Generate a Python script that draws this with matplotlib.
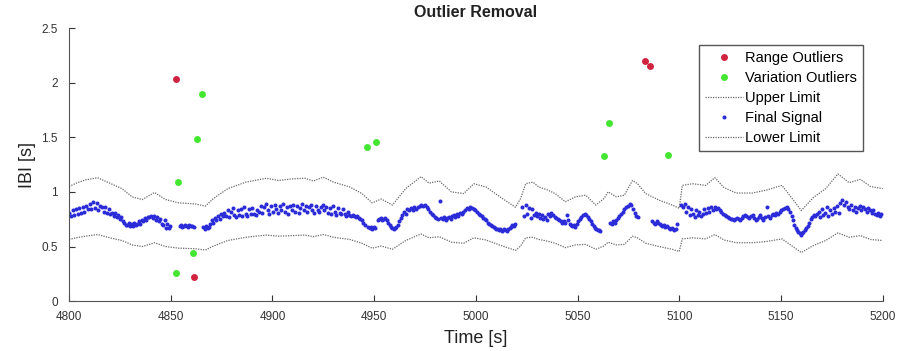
import numpy as np
import matplotlib
matplotlib.use('Agg')
import matplotlib.pyplot as plt
from matplotlib.ticker import FormatStrFormatter

plt.rcParams['font.family'] = ['Liberation Sans', 'DejaVu Sans']

# --- outliers (time [s], IBI [s]) ---
range_t = [4852.6, 4861.4, 5083.2, 5085.7]
range_v = [2.03, 0.22, 2.20, 2.15]

var_t = [4852.6, 4853.6, 4861.0, 4863.0, 4865.4, 4946.4, 4950.9, 5063.0, 5065.4, 5094.3]
var_v = [0.26, 1.09, 0.44, 1.48, 1.90, 1.41, 1.46, 1.33, 1.63, 1.34]

# --- limits ---
limit_t = [4800, 4803.5, 4808, 4814, 4820, 4826, 4831, 4836, 4842, 4847.5,
           4854, 4862, 4867, 4871, 4878, 4887, 4897, 4903, 4910, 4916,
           4920, 4925, 4930, 4938, 4944, 4949, 4953.5, 4959, 4965.5, 4973,
           4977, 4982, 4988, 4994, 4999, 5005, 5013, 5019.5, 5022, 5024.5,
           5028, 5031, 5035, 5039, 5044, 5049, 5054, 5059, 5063, 5065,
           5069, 5073, 5077, 5079.5, 5083.5, 5090, 5096.5, 5100, 5101.5, 5106.5,
           5113, 5117.5, 5122, 5128, 5136, 5142.5, 5150.5, 5155.5, 5160, 5166,
           5172, 5178, 5183.5, 5189, 5194, 5200]
upper = [1.05, 1.08, 1.11, 1.13, 1.08, 1.03, 0.955, 0.93, 0.995, 0.93,
         0.90, 0.89, 0.87, 0.94, 1.03, 1.09, 1.125, 1.105, 1.12, 1.125,
         1.10, 1.135, 1.09, 1.045, 0.985, 0.90, 0.935, 0.88, 1.03, 1.14,
         1.08, 1.10, 1.0, 0.985, 1.075, 1.045, 0.94, 0.86, 0.94, 1.075,
         1.09, 1.045, 1.02, 0.985, 0.91, 0.955, 0.97, 0.88, 0.94, 1.0,
         0.955, 0.97, 1.105, 1.075, 0.985, 0.925, 0.88, 0.85, 1.06, 1.075,
         1.06, 1.13, 1.04, 0.99, 0.99, 1.015, 1.06, 0.94, 0.83, 0.95,
         1.03, 1.165, 1.085, 1.115, 1.05, 1.03]
lower = [0.565, 0.58, 0.595, 0.61, 0.58, 0.555, 0.515, 0.50, 0.535, 0.50,
         0.485, 0.48, 0.468, 0.505, 0.555, 0.585, 0.605, 0.595, 0.60, 0.605,
         0.59, 0.61, 0.585, 0.565, 0.53, 0.485, 0.505, 0.475, 0.555, 0.615,
         0.58, 0.59, 0.54, 0.53, 0.58, 0.56, 0.505, 0.465, 0.505, 0.58,
         0.585, 0.565, 0.55, 0.53, 0.49, 0.515, 0.52, 0.475, 0.505, 0.54,
         0.515, 0.52, 0.595, 0.58, 0.53, 0.50, 0.475, 0.455, 0.57, 0.58,
         0.57, 0.61, 0.56, 0.535, 0.535, 0.545, 0.57, 0.505, 0.445, 0.51,
         0.555, 0.625, 0.585, 0.60, 0.565, 0.555]

# --- final signal: segments between removed beats ---
# each beat time = previous beat time + its own IBI
seg_start = [4799.3, 4853.6, 4865.4, 4946.4, 4950.9, 5022.0, 5065.4, 5086.0, 5094.3, 5100.0]
seg_ibi = [
    [0.81, 0.78, 0.83, 0.79, 0.84, 0.80,
     0.85, 0.81, 0.86, 0.82, 0.87, 0.84,
     0.89, 0.84, 0.91, 0.85, 0.90, 0.83, 0.87,
     0.86, 0.82, 0.86, 0.81, 0.84, 0.80,
     0.81, 0.78, 0.81, 0.77, 0.79, 0.75, 0.77, 0.73, 0.72, 0.70,
     0.70, 0.72, 0.69, 0.71, 0.69, 0.72, 0.70, 0.71, 0.73, 0.71, 0.74, 0.73, 0.76, 0.74, 0.77, 0.77,
     0.78, 0.76, 0.78, 0.74, 0.77, 0.73, 0.75, 0.71,
     0.70, 0.74, 0.67, 0.71, 0.67, 0.69],
    [0.69, 0.70, 0.68, 0.69, 0.70, 0.69, 0.68, 0.70, 0.69, 0.69, 0.68],
    [0.68, 0.66, 0.69, 0.67, 0.68,
     0.71, 0.74, 0.72, 0.76, 0.74, 0.78, 0.75, 0.80, 0.78, 0.81,
     0.78, 0.83, 0.77, 0.82, 0.85, 0.79, 0.77, 0.83, 0.79, 0.84,
     0.78, 0.86, 0.80, 0.78, 0.84, 0.80, 0.85, 0.80, 0.79, 0.83,
     0.82, 0.87, 0.81, 0.86, 0.89, 0.83, 0.80, 0.87, 0.82, 0.88,
     0.84, 0.81, 0.87, 0.83, 0.89, 0.82, 0.86, 0.80, 0.87, 0.83,
     0.88, 0.82, 0.87, 0.81, 0.85, 0.89, 0.83, 0.87, 0.82, 0.86,
     0.88, 0.83, 0.81, 0.87, 0.83, 0.82, 0.86, 0.88, 0.83,
     0.86, 0.81, 0.85, 0.80, 0.87, 0.82, 0.79, 0.85, 0.81, 0.80,
     0.84, 0.80, 0.78, 0.82, 0.79, 0.78, 0.79,
     0.78, 0.77, 0.78, 0.76, 0.75, 0.74, 0.72, 0.70],
    [0.68, 0.67, 0.68, 0.66, 0.68, 0.67],
    [0.74, 0.75, 0.76, 0.74, 0.75, 0.76, 0.74, 0.72,
     0.70, 0.68, 0.67, 0.66, 0.67, 0.68, 0.70,
     0.73, 0.76, 0.79, 0.82, 0.80, 0.84, 0.83,
     0.85, 0.83, 0.86, 0.84, 0.86,
     0.87, 0.88, 0.87, 0.88, 0.86,
     0.84, 0.82, 0.80, 0.79, 0.77, 0.76, 0.75,
     0.92,
     0.76, 0.75, 0.77, 0.74, 0.76,
     0.77, 0.75, 0.78, 0.79, 0.77, 0.80, 0.78, 0.81, 0.80, 0.82,
     0.83, 0.85, 0.84, 0.86, 0.85, 0.84,
     0.83, 0.82, 0.80, 0.79, 0.78, 0.76, 0.75, 0.74, 0.72, 0.71, 0.70, 0.69, 0.68, 0.67, 0.66, 0.66,
     0.65, 0.66, 0.64, 0.65, 0.66, 0.65, 0.64, 0.66, 0.67,
     0.68, 0.70, 0.69, 0.71],
    [0.86, 0.78, 0.88, 0.80, 0.85, 0.76, 0.84, 0.79,
     0.81, 0.78, 0.80, 0.76, 0.79, 0.75, 0.77, 0.74,
     0.80, 0.78, 0.81, 0.79,
     0.77, 0.76, 0.75, 0.74, 0.73, 0.72, 0.73, 0.72,
     0.79, 0.74, 0.71, 0.70, 0.69,
     0.70, 0.68, 0.71,
     0.73, 0.75, 0.77, 0.79, 0.80,
     0.79, 0.77, 0.75, 0.73, 0.71, 0.69, 0.67, 0.66, 0.65,
     0.65, 0.64],
    [0.72, 0.71, 0.73, 0.72,
     0.74, 0.76, 0.78, 0.80, 0.82, 0.84, 0.86, 0.87,
     0.89, 0.88,
     0.84, 0.81, 0.78, 0.77],
    [0.73, 0.72, 0.71, 0.73, 0.72, 0.71,
     0.70, 0.69, 0.70, 0.68, 0.69],
    [0.67, 0.66, 0.67, 0.66, 0.65, 0.66, 0.71],
    [0.88, 0.86, 0.89,
     0.82, 0.86, 0.79, 0.84, 0.80, 0.77, 0.83, 0.79, 0.82, 0.78, 0.80, 0.84, 0.81,
     0.85, 0.82, 0.86, 0.83, 0.86, 0.84, 0.85, 0.83,
     0.82, 0.80, 0.79, 0.78,
     0.77, 0.76, 0.75, 0.75, 0.74, 0.75, 0.76, 0.75, 0.74,
     0.76, 0.78, 0.79, 0.78, 0.77, 0.76, 0.78, 0.79,
     0.76, 0.74, 0.75, 0.77, 0.79, 0.76, 0.74, 0.77,
     0.86, 0.78, 0.76, 0.79,
     0.80, 0.79, 0.81, 0.80, 0.82, 0.83, 0.84, 0.85,
     0.86, 0.84, 0.82, 0.78,
     0.74, 0.70, 0.67, 0.65, 0.63,
     0.62, 0.61, 0.62, 0.63, 0.65,
     0.67, 0.69, 0.72, 0.75, 0.77, 0.79, 0.78,
     0.80, 0.82, 0.77, 0.84, 0.79, 0.81, 0.86, 0.78, 0.83, 0.80, 0.85, 0.82, 0.87, 0.81,
     0.90, 0.93, 0.88, 0.91,
     0.86, 0.84, 0.88, 0.83, 0.86, 0.82, 0.85, 0.87, 0.83, 0.86, 0.84,
     0.82, 0.85, 0.83, 0.81, 0.83, 0.80, 0.79, 0.81, 0.78, 0.80],
]

sig_t = []
sig_v = []
for t0, ibi in zip(seg_start, seg_ibi):
    ibi = np.array(ibi)
    sig_t.append(t0 + np.cumsum(ibi))
    sig_v.append(ibi)
sig_t = np.concatenate(sig_t)
sig_v = np.concatenate(sig_v)

fig, ax = plt.subplots(figsize=(9.09, 3.51), dpi=100)
fig.subplots_adjust(left=0.076, right=0.971, bottom=0.142, top=0.920)

ax.plot(range_t, range_v, 'o', color='#d0233f', ms=5, mec='none', label='Range Outliers')
ax.plot(var_t, var_v, 'o', color='#44e632', ms=5, mec='none', label='Variation Outliers')
ax.plot(limit_t, upper, color='#6a6a6a', lw=0.9, ls=(0, (1, 1)), label='Upper Limit')
ax.plot(sig_t, sig_v, 'o', color='#2b2bd8', ms=2.9, mec='none', label='Final Signal')
ax.plot(limit_t, lower, color='#6a6a6a', lw=0.9, ls=(0, (1, 1)), label='Lower Limit')

ax.set_xlim(4800, 5200)
ax.set_ylim(0, 2.5)
ax.set_xticks(np.arange(4800, 5201, 50))
ax.set_yticks([0, 0.5, 1, 1.5, 2, 2.5])
ax.yaxis.set_major_formatter(FormatStrFormatter('%g'))
ax.tick_params(direction='in', length=4, width=0.8, colors='#333333', labelsize=8.5)
ax.tick_params(axis='x', pad=7)
ax.tick_params(axis='y', pad=8)

for side in ['top', 'right']:
    ax.spines[side].set_visible(False)
for side in ['left', 'bottom']:
    ax.spines[side].set_color('#555555')

ax.set_title('Outlier Removal', fontsize=11.5, fontweight='bold', color='#222222', pad=8)
ax.set_xlabel('Time [s]', fontsize=13, color='#222222', labelpad=5)
ax.set_ylabel('IBI [s]', fontsize=13, color='#222222', labelpad=4)

leg = ax.legend(loc='upper right', bbox_to_anchor=(0.985, 0.965), fontsize=10.5,
                fancybox=False, edgecolor='#555555', framealpha=1,
                handlelength=2.6, handletextpad=0.2, labelspacing=0.42,
                borderpad=0.4, markerscale=1.0)
leg.get_frame().set_linewidth(1.0)

plt.savefig('out.png', dpi=100)
